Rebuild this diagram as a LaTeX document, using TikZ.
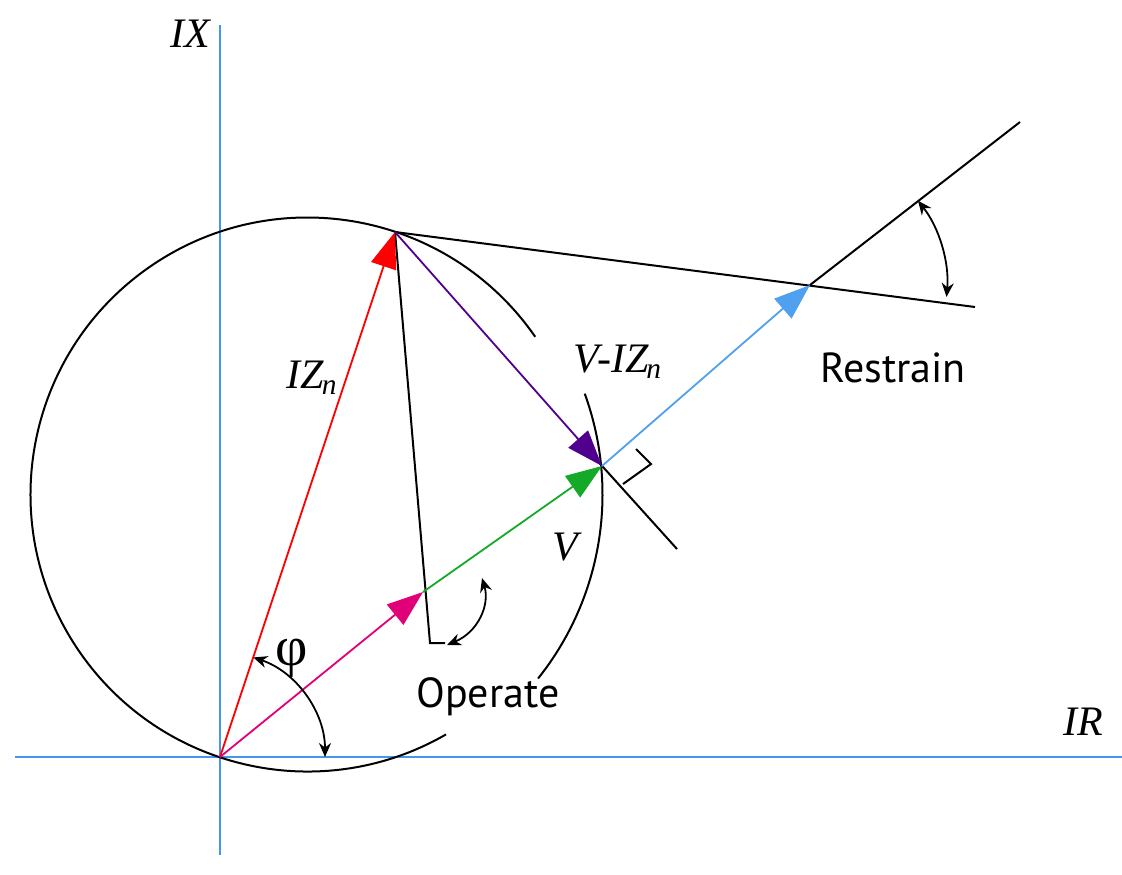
\documentclass[tikz,border=0pt]{standalone}
\usepackage{fontspec}
\setmainfont{Liberation Serif}
\setsansfont{PT Sans}
\usetikzlibrary{arrows.meta}
\definecolor{axc}{RGB}{70,150,235}
\definecolor{magc}{RGB}{225,0,120}
\definecolor{grc}{RGB}{20,170,40}
\definecolor{puc}{RGB}{80,0,140}
\definecolor{blc}{RGB}{80,160,240}
\begin{document}
\begin{tikzpicture}[x=0.5pt,y=-0.5pt,
  ax/.style={draw=axc,line width=1.2pt},
  vec/.style={line width=0.9pt,-{Triangle[length=18pt,width=13pt]}},
  blk/.style={line width=1pt,black},
  dbl/.style={line width=0.9pt,{Stealth[length=7pt,width=6pt]}-{Stealth[length=7pt,width=6pt]}},
  lab/.style={font=\fontsize{21}{24}\selectfont\itshape},
  slab/.style={font=\sffamily\fontsize{21}{24}\selectfont}]
\useasboundingbox (0,0) rectangle (1122,874);
\coordinate (O) at (220,757);
\coordinate (Z) at (395,232);
\coordinate (C) at (307.5,494.5);
\coordinate (V) at (602,466);
\coordinate (M) at (423,592);
\coordinate (K) at (430,643);
\coordinate (R) at (810,285);
% axes
\draw[ax] (220,25) -- (220,855);
\draw[ax] (15,757) -- (1122,757);
% circle (with gap)
\draw[blk] (C) ++(-34.7:277) arc[start angle=-34.7,end angle=-300,radius=277];
% arc through V
\draw[blk] (C) ++(-20:295) arc[start angle=-20,end angle=38.6,radius=295];
% black lines
\draw[blk] (Z) -- (975,307);
\draw[blk] (Z) -- (K) -- (445,643);
\coordinate (Tend) at (677,549);
\draw[blk] (594,457) -- (Tend);
\draw[blk] (636,449) -- (651,464) -- (623,484);
\draw[blk] (R) -- (1020,122);
% vectors
\draw[vec,red] (O) -- (Z);
\draw[vec,magc] (O) -- (M);
\draw[vec,grc] (M) -- (V);
\draw[vec,puc] (Z) -- (V);
\draw[vec,blc] (V) -- (R);
% angle arcs
\draw[dbl] (O) ++(-71.5:105) arc[start angle=-71.5,end angle=0,radius=105];
\draw[dbl] (R) ++(-38:137) arc[start angle=-38,end angle=5,radius=137];
\draw[dbl] (447,645) .. controls (478,632) and (490,605) .. (482,578);
% labels
\node[lab] at (190,34) {IX};
\node[lab] at (1083,722) {IR};
\node[lab] at (312,378) {IZ\textsubscript{\kern-1pt n}};
\node[lab] at (618,362) {V-IZ\textsubscript{\kern-1pt n}};
\node[lab] at (565,547) {V};
\node[slab] at (488,697) {Operate};
\node[slab] at (893,368) {Restrain};
\node[font=\fontsize{28}{30}\selectfont] at (292,658) {φ};
\end{tikzpicture}
\end{document}
